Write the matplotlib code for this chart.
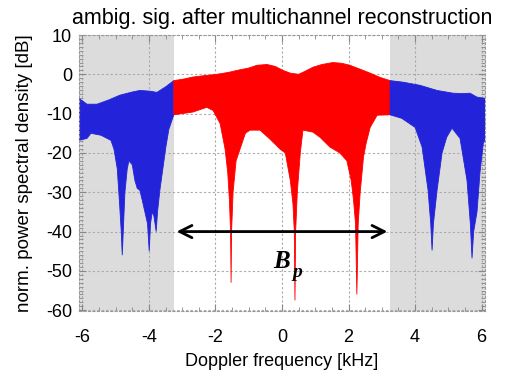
import numpy as np
import matplotlib
matplotlib.use("Agg")
import matplotlib.pyplot as plt
from matplotlib.ticker import MultipleLocator

plt.rcParams['font.family'] = ['Liberation Sans', 'DejaVu Sans']
plt.rcParams['axes.unicode_minus'] = False

# upper envelope of the spectrum (kHz, dB)
upper_f = [-6.1, -5.86, -5.56, -5.2, -4.87, -4.5, -4.27, -3.95, -3.76, -3.5, -3.25,
           -2.95, -2.68, -2.3, -1.96, -1.6, -1.35, -1.0, -0.75, -0.45, -0.2, 0.03,
           0.25, 0.5, 0.7, 0.93, 1.2, 1.53, 1.8, 2.04, 2.35, 2.65, 2.95, 3.25,
           3.64, 4.15, 4.66, 5.14, 5.45, 5.65, 5.86, 6.1]
upper_db = [-6.1, -7.6, -7.6, -6.5, -5.3, -4.5, -4.1, -4.3, -4.6, -3.2, -1.6,
            -1.2, -0.7, -0.3, 0.0, 0.5, 1.0, 1.6, 2.3, 2.5, 2.0, 1.0,
            0.3, 0.0, 0.8, 1.8, 2.5, 3.0, 2.8, 2.3, 1.3, 0.3, -0.8, -1.6,
            -2.0, -2.8, -4.1, -4.8, -4.9, -4.8, -5.8, -6.1]

# lower envelope of the spectrum (kHz, dB)
lower_f = [-6.1, -5.86, -5.74, -5.44, -5.14, -5.05, -4.95, -4.88, -4.83, -4.8, -4.77,
           -4.72, -4.65, -4.6, -4.5, -4.42, -4.35, -4.27, -4.2, -4.12, -4.04, -3.99,
           -3.95, -3.9, -3.85, -3.78, -3.74, -3.67, -3.58, -3.49, -3.4, -3.25,
           -2.68, -2.26, -2.07, -1.86, -1.71, -1.63, -1.58, -1.545, -1.53, -1.515,
           -1.47, -1.38, -1.26, -1.1, -0.96, -0.66, -0.36, -0.06, 0.1, 0.25, 0.33,
           0.37, 0.39, 0.41, 0.46, 0.55, 0.63, 0.93, 1.14, 1.44, 1.74, 1.95, 2.08,
           2.15, 2.21, 2.25, 2.29, 2.35, 2.45, 2.53, 2.65, 2.86, 3.25,
           3.6, 4.0, 4.21, 4.39, 4.47, 4.51, 4.55, 4.66, 4.81, 4.95, 5.11, 5.35,
           5.56, 5.66, 5.71, 5.76, 5.86, 5.95, 6.05, 6.1]
lower_db = [-16.8, -16.3, -15.0, -15.5, -16.8, -19, -24, -33, -40, -46, -40,
            -30, -24, -22, -23, -27, -29, -29.5, -32, -35, -38, -45,
            -38, -35, -36, -40, -35, -29.5, -24, -18.5, -14, -10.3,
            -9.6, -8.4, -9.2, -12.5, -19, -25, -32, -40, -53, -40,
            -30, -22, -19, -15, -14.2, -14.2, -16.5, -19, -20, -27, -33,
            -40, -57.5, -40, -30, -20, -14.2, -14.7, -16, -18.5, -20, -22, -27,
            -32, -38, -56, -38, -30, -21, -17.5, -13.5, -10.4, -10.3,
            -11.2, -13.5, -18.5, -29.5, -38, -44.8, -38, -29.5, -20, -16, -13.7, -16.3,
            -27, -38, -46.8, -40, -35, -25, -17.5, -16.8]

bp_edge = 3.25  # processed bandwidth edge (kHz)

upper_f = np.array(upper_f); upper_db = np.array(upper_db)
lower_f = np.array(lower_f); lower_db = np.array(lower_db)

fig = plt.figure(figsize=(5.08, 3.76), dpi=100)
ax = fig.add_axes([0.1555, 0.1729, 0.7992, 0.734])

ax.axvspan(-6.1, -bp_edge, color='#dcdcdc', lw=0, zorder=0)
ax.axvspan(bp_edge, 6.1, color='#dcdcdc', lw=0, zorder=0)


def band(a, b, color):
    mu = (upper_f >= a - 1e-9) & (upper_f <= b + 1e-9)
    ml = (lower_f >= a - 1e-9) & (lower_f <= b + 1e-9)
    xs = np.concatenate([upper_f[mu], lower_f[ml][::-1]])
    ys = np.concatenate([upper_db[mu], lower_db[ml][::-1]])
    ax.fill(xs, ys, color=color, lw=0.6, zorder=2)


band(-6.1, -bp_edge, '#2323d9')
band(-bp_edge, bp_edge, '#ff0000')
band(bp_edge, 6.1, '#2323d9')

ax.set_xlim(-6.1, 6.1)
ax.set_ylim(-60.2, 10)
ax.xaxis.set_major_locator(MultipleLocator(2))
ax.xaxis.set_minor_locator(MultipleLocator(0.5))
ax.yaxis.set_major_locator(MultipleLocator(10))
ax.yaxis.set_minor_locator(MultipleLocator(1))
ax.set_axisbelow(True)
ax.grid(True, which='major', color='#aaaaaa', linestyle=(0, (2, 2)), lw=0.8)
ax.tick_params(which='both', direction='in', top=True, right=True, colors='#888888',
               labelcolor='black', labelsize=13)
ax.tick_params(which='major', length=5)
ax.tick_params(which='minor', length=3)
ax.tick_params(axis='x', pad=13)
ax.tick_params(axis='y', pad=5)
for s in ax.spines.values():
    s.set_linestyle((0, (2, 2)))
    s.set_color('#999999')
    s.set_linewidth(0.8)

ax.annotate('', xy=(bp_edge, -40), xytext=(-bp_edge, -40),
            arrowprops=dict(arrowstyle='<->', lw=2, color='black', mutation_scale=22),
            zorder=5)
ax.text(0.0, -47.6, 'B', family='Liberation Serif', fontweight='bold', style='italic',
        fontsize=18, ha='center', va='center', zorder=6)
ax.text(0.45, -50.3, 'p', family='Liberation Serif', fontweight='bold', style='italic',
        fontsize=14, ha='center', va='center', zorder=6)

ax.set_title('ambig. sig. after multichannel reconstruction', fontsize=15.5, pad=8)
ax.set_xlabel('Doppler frequency [kHz]', fontsize=13, labelpad=5)
ax.set_ylabel('norm. power spectral density [dB]', fontsize=13.5, labelpad=9)

fig.savefig('out.png', dpi=100)
